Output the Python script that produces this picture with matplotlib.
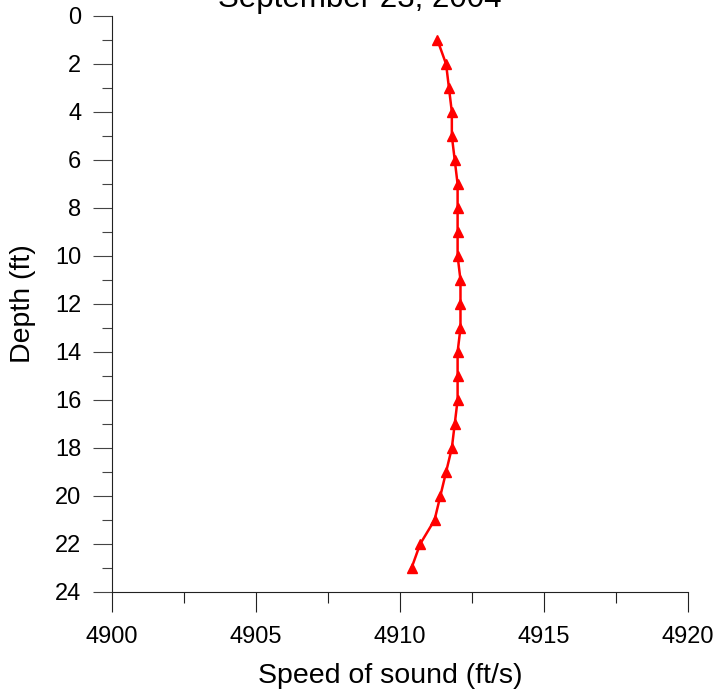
import numpy as np
import matplotlib
matplotlib.use('Agg')
from matplotlib import pyplot as plt
from matplotlib.ticker import MultipleLocator

plt.rcParams['font.family'] = ['Liberation Sans', 'DejaVu Sans']

# data
depth = [1, 2, 3, 4, 5, 6, 7, 8, 9, 10, 11, 12,
         13, 14, 15, 16, 17, 18, 19, 20, 21, 22, 23]
speed = [4911.3, 4911.6, 4911.7, 4911.8, 4911.8, 4911.9, 4912.0, 4912.0,
         4912.0, 4912.0, 4912.1, 4912.1, 4912.1, 4912.0, 4912.0, 4912.0,
         4911.9, 4911.8, 4911.6, 4911.4, 4911.2, 4910.7, 4910.4]
title = 'September 23, 2004'

fig = plt.figure(figsize=(7.17, 6.94), dpi=100)
ax = fig.add_axes([112/717, 1 - 592/694, (688 - 112)/717, (592 - 16)/694])

ax.plot(speed, depth, color='red', lw=1.8, marker='^', ms=7.5, clip_on=False)

ax.set_xlim(4900, 4920)
ax.set_ylim(24, 0)
ax.xaxis.set_major_locator(MultipleLocator(5))
ax.xaxis.set_minor_locator(MultipleLocator(2.5))
ax.yaxis.set_major_locator(MultipleLocator(2))
ax.yaxis.set_minor_locator(MultipleLocator(1))

for s in ['top', 'right']:
    ax.spines[s].set_visible(False)
for s in ['left', 'bottom']:
    ax.spines[s].set_linewidth(0.8)
    ax.spines[s].set_color('#222222')

ax.tick_params(axis='x', which='major', length=14.5, width=0.8, pad=10,
               labelsize=17, color='#222222')
ax.tick_params(axis='x', which='minor', length=8, width=0.8, color='#222222')
ax.tick_params(axis='y', which='major', length=14, width=0.8, pad=8,
               labelsize=17, color='#444444')
ax.tick_params(axis='y', which='minor', length=7, width=0.8, color='#444444')

ax.set_xlabel('Speed of sound (ft/s)', fontsize=20.5, labelpad=11)
ax.xaxis.label.set_x((390 - 112) / 576)
ax.set_ylabel('Depth (ft)', fontsize=20.5, labelpad=14)

fig.text(360/717, 1 - 7/694, title, fontsize=22.5, ha='center', va='baseline')

fig.savefig('out.png', dpi=100)
